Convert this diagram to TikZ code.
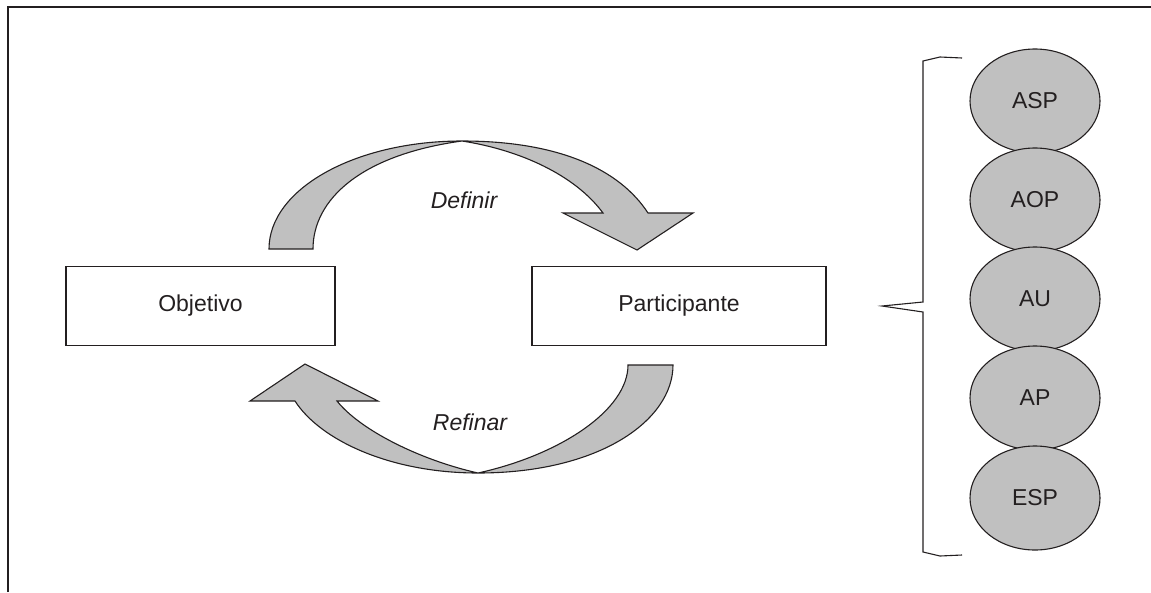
\documentclass[tikz,border=0pt]{standalone}
\usepackage{fontspec}
\setmainfont{Liberation Sans}
\usetikzlibrary{shapes.geometric}
\definecolor{ink}{HTML}{231F20}
\definecolor{shade}{HTML}{C0C0C0}
\tikzset{
  box/.style={draw=ink, line width=1.1pt, minimum width=#1, minimum height=79pt, inner sep=0pt, text=ink},
  oval/.style={ellipse, draw=ink, fill=shade, line width=1.1pt, minimum width=130pt, minimum height=104pt, inner sep=0pt, text=ink},
  bigarrow/.style={draw=ink, fill=shade, line width=1.1pt, line join=miter},
  lbl/.style={text=ink, font=\itshape\fontsize{23}{27}\selectfont},
  bracket/.style={draw=ink, line width=1.1pt}
}
\begin{document}
\begin{tikzpicture}[x=1pt, y=-1pt, font=\fontsize{23}{27}\selectfont]
\useasboundingbox (0,0) rectangle (1151,592);
% frame
\draw[ink, line width=2pt] (8,592) -- (8,7) -- (1151,7);
% boxes
\node[box=269pt] (obj) at (200.5,306) {Objetivo};
\node[box=294pt] (par) at (679,306) {Participante};
% top arrow (Definir)
\path[bigarrow] (269,249) .. controls (269,189) and (355,141) .. (462,141)
  .. controls (560,141) and (620,170) .. (648,213)
  -- (693,213) -- (637,250) -- (563,213) -- (603,213)
  .. controls (575,175) and (520,150) .. (462,141)
  .. controls (360,155) and (313,200) .. (313,249) -- cycle;
\node[lbl] (def) at (464,200) {Definir};
% bottom arrow (Refinar)
\path[bigarrow] (673,365) .. controls (673,420) and (600,473) .. (478,473)
  .. controls (390,473) and (320,440) .. (295,401)
  -- (250,401) -- (305,364) -- (378,401) -- (337,401)
  .. controls (360,430) and (420,460) .. (478,473)
  .. controls (560,455) and (628,410) .. (628,365) -- cycle;
\node[lbl] (ref) at (470,422) {Refinar};
% bracket
\coordinate (bt) at (962,58);
\coordinate (bb) at (962,555);
\coordinate (bp) at (882,306);
\draw[bracket] (bt) -- (940,57) -- (923,61) -- (923,302) -- (bp) -- (923,312) -- (923,552) -- (940,556) -- (bb);
% ellipses
\node[oval] (asp) at (1035,101) {ASP};
\node[oval] (aop) at (1035,200) {AOP};
\node[oval] (au)  at (1035,299) {AU};
\node[oval] (ap)  at (1035,398) {AP};
\node[oval] (esp) at (1035,498) {ESP};
\end{tikzpicture}
\end{document}
